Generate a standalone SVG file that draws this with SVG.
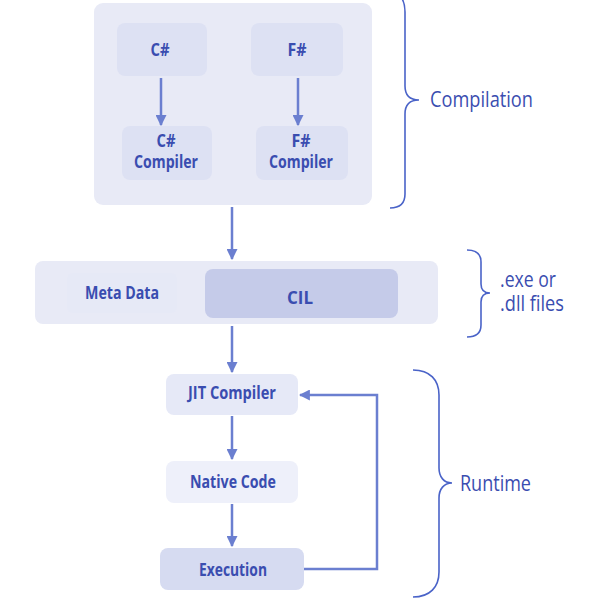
<svg xmlns="http://www.w3.org/2000/svg" width="600" height="604" viewBox="0 0 600 604">
<defs>
<style>
.t{font-family:"Open Sans","Noto Sans",sans-serif;font-weight:700;fill:#3a4db0;text-anchor:middle;font-size:17px}
.lbl{font-family:"Open Sans","Noto Sans",sans-serif;font-weight:400;fill:#3a4db0;font-size:21px}
.conn{stroke:#6b7fd0;stroke-width:2.5;fill:none}
.brace{stroke:#4a63c8;stroke-width:1.6;fill:none}
</style>
<marker id="ah" viewBox="0 0 10 10" refX="9" refY="5" markerWidth="4.4" markerHeight="4.4" orient="auto" markerUnits="strokeWidth">
<path d="M0,0 L10,5 L0,10 z" fill="#6b7fd0"/>
</marker>
</defs>
<rect width="600" height="604" fill="#ffffff"/>

<g id="compilation">
<rect x="94" y="3" width="278" height="202" rx="9" fill="#e8eaf6"/>
</g>
<g id="csharp">
<rect x="117" y="23" width="90" height="53" rx="8" fill="#dde1f3"/>
<text class="t" x="160" y="56" textLength="19" lengthAdjust="spacingAndGlyphs">C#</text>
</g>
<g id="fsharp">
<rect x="251" y="23" width="92" height="53" rx="8" fill="#dde1f3"/>
<text class="t" x="297" y="56" textLength="19" lengthAdjust="spacingAndGlyphs">F#</text>
</g>
<g id="csharp-compiler">
<rect x="122" y="126" width="90" height="54" rx="8" fill="#dde1f3"/>
<text class="t" x="166" y="147" textLength="19" lengthAdjust="spacingAndGlyphs">C#</text>
<text class="t" x="166" y="168" textLength="64" lengthAdjust="spacingAndGlyphs">Compiler</text>
</g>
<g id="fsharp-compiler">
<rect x="256" y="126" width="92" height="54" rx="8" fill="#dde1f3"/>
<text class="t" x="301" y="147" textLength="19" lengthAdjust="spacingAndGlyphs">F#</text>
<text class="t" x="301" y="168" textLength="64" lengthAdjust="spacingAndGlyphs">Compiler</text>
</g>

<g id="assembly">
<rect x="35" y="261" width="403" height="63" rx="8" fill="#e8eaf6"/>
</g>
<g id="metadata">
<rect x="67" y="273" width="110" height="40" rx="6" fill="#e6e9f6"/>
<text class="t" x="122" y="299" textLength="74" lengthAdjust="spacingAndGlyphs">Meta Data</text>
</g>
<g id="cil">
<rect x="205" y="269" width="193" height="49" rx="8" fill="#c5cbe9"/>
<text class="t" x="300" y="304" font-size="24">CIL</text>
</g>

<g id="jit">
<rect x="166" y="374" width="132" height="41" rx="8" fill="#e6e9f7"/>
<text class="t" x="232" y="399" textLength="88" lengthAdjust="spacingAndGlyphs">JIT Compiler</text>
</g>
<g id="native">
<rect x="166" y="461" width="132" height="42" rx="8" fill="#eef0fa"/>
<text class="t" x="233" y="488" textLength="86" lengthAdjust="spacingAndGlyphs">Native Code</text>
</g>
<g id="execution">
<rect x="160" y="548" width="144" height="42" rx="8" fill="#d6dbf1"/>
<text class="t" x="233" y="576" textLength="68" lengthAdjust="spacingAndGlyphs">Execution</text>
</g>

<g id="connectors">
<line class="conn" x1="161" y1="78" x2="161" y2="125" marker-end="url(#ah)"/>
<line class="conn" x1="298" y1="78" x2="298" y2="125" marker-end="url(#ah)"/>
<line class="conn" x1="232" y1="207" x2="232" y2="259" marker-end="url(#ah)"/>
<line class="conn" x1="232" y1="326" x2="232" y2="372" marker-end="url(#ah)"/>
<line class="conn" x1="232" y1="416" x2="232" y2="459" marker-end="url(#ah)"/>
<line class="conn" x1="232" y1="504" x2="232" y2="546" marker-end="url(#ah)"/>
<path class="conn" d="M304,569 L377,569 L377,395 L300,395" marker-end="url(#ah)"/>
</g>

<g id="brace-compilation">
<path class="brace" d="M390,-8 C400,-8 405,0 405,12 L405,86 C405,95 410,100 419,100 C410,100 405,105 405,114 L405,194 C405,203 400,208 390,208"/>
<text class="lbl" x="430" y="107" textLength="103" lengthAdjust="spacingAndGlyphs">Compilation</text>
</g>
<g id="brace-files">
<path class="brace" d="M467,250 C476,250 481,254 481,262 L481,284 C481,290 484,293 490,293 C484,293 481,296 481,302 L481,325 C481,333 476,337 467,337"/>
<text class="lbl" x="500" y="287" font-size="17" textLength="56" lengthAdjust="spacingAndGlyphs">.exe or</text>
<text class="lbl" x="500" y="311" font-size="17" textLength="64" lengthAdjust="spacingAndGlyphs">.dll files</text>
</g>
<g id="brace-runtime">
<path class="brace" d="M413,370 C430,370 439,380 439,395 L439,468 C439,477 444,483 452,483 C444,483 439,489 439,498 L439,572 C439,587 430,597 413,597"/>
<text class="lbl" x="460" y="491" font-size="20" textLength="71" lengthAdjust="spacingAndGlyphs">Runtime</text>
</g>
</svg>
